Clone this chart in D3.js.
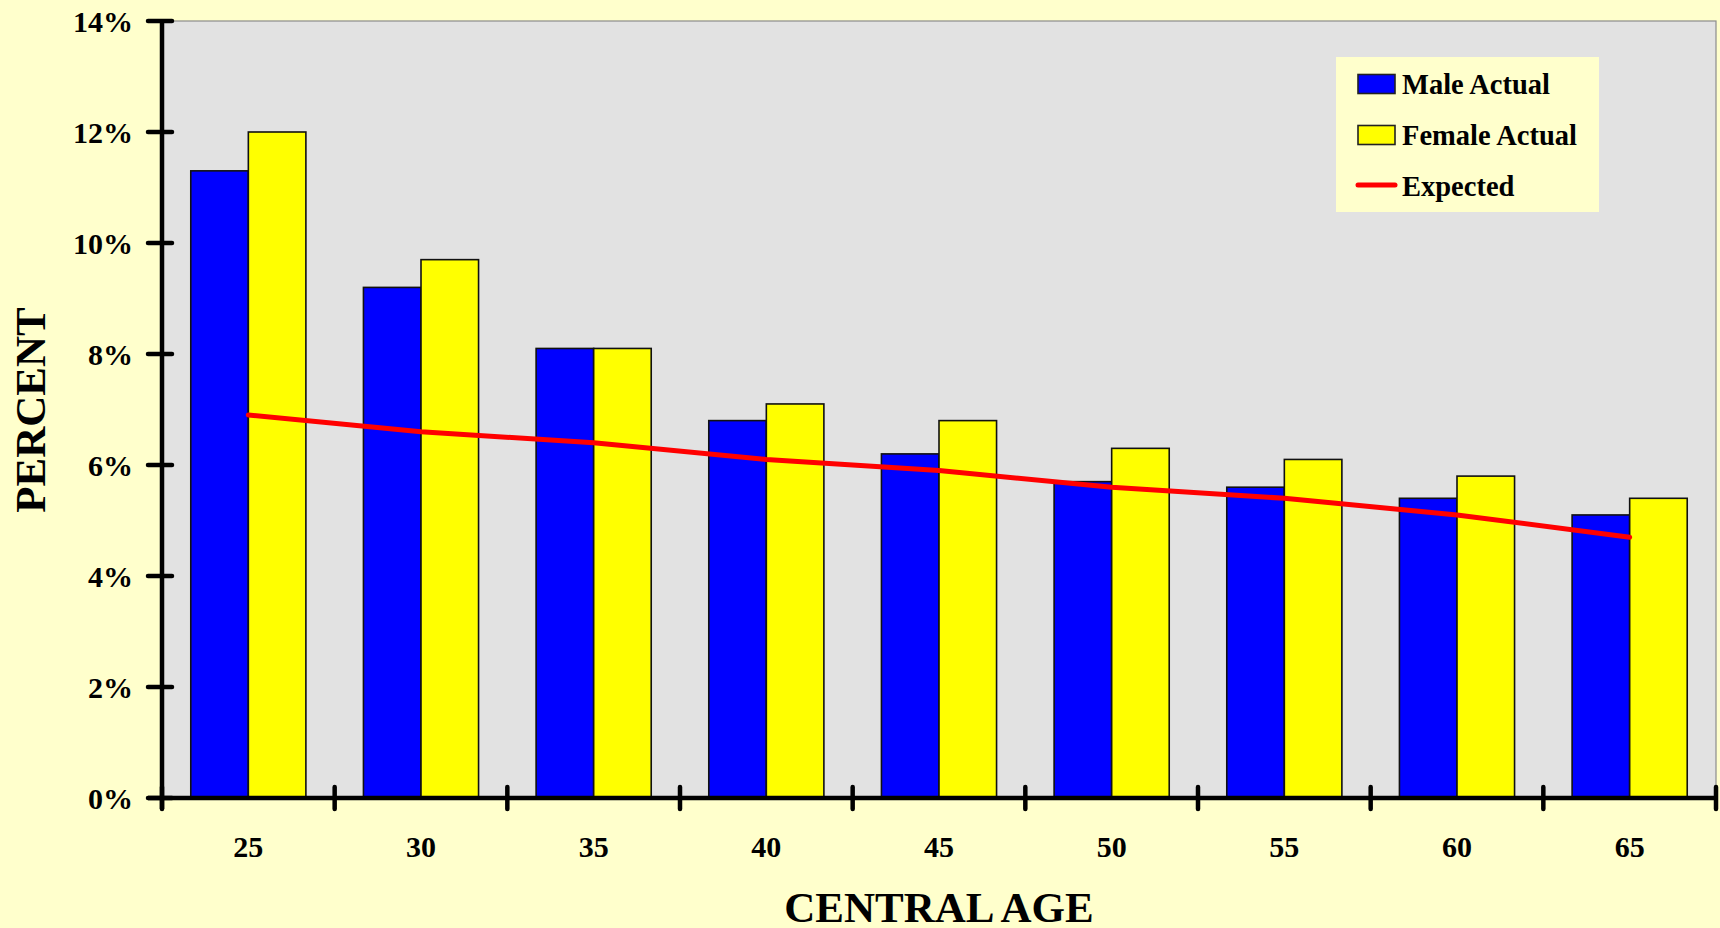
<!DOCTYPE html>
<html>
<head>
<meta charset="utf-8">
<script src="https://cdn.jsdelivr.net/npm/d3@7"></script>
<style>
  html, body { margin: 0; padding: 0; background: #FFFFCC; }
  svg { display: block; }
  text { font-family: "Liberation Serif", "Times New Roman", serif; font-weight: bold; fill: #000; }
</style>
</head>
<body>
<svg id="chart" width="1720" height="928"></svg>
<script>
const categories = ["25", "30", "35", "40", "45", "50", "55", "60", "65"];
const maleActual = [11.3, 9.2, 8.1, 6.8, 6.2, 5.7, 5.6, 5.4, 5.1];
const femaleActual = [12.0, 9.7, 8.1, 7.1, 6.8, 6.3, 6.1, 5.8, 5.4];
const expected = [6.9, 6.6, 6.4, 6.1, 5.9, 5.6, 5.4, 5.1, 4.7];
const yTicks = [0, 2, 4, 6, 8, 10, 12, 14];
const seriesNames = ["Male Actual", "Female Actual", "Expected"];

(function () {
const svg = d3.select("#chart");
const pLeft = 162, pRight = 1716, pTop = 21, pBottom = 798;

const x0 = d3.scaleBand().domain(categories).range([pLeft, pRight]).paddingInner(1/3).paddingOuter(1/6);
const x1 = d3.scaleBand().domain(["m", "f"]).range([0, x0.bandwidth()]);
const y = d3.scaleLinear().domain([0, 14]).range([pBottom, pTop]);

// plot background
svg.append("rect").attr("x", pLeft).attr("y", pTop).attr("width", pRight - pLeft).attr("height", pBottom - pTop)
  .attr("fill", "#E2E2E2").attr("stroke", "#8c8c8c").attr("stroke-width", 1.2);

// bars
const groups = svg.append("g").selectAll("g").data(categories).join("g")
  .attr("transform", d => `translate(${x0(d)},0)`);
groups.append("rect")
  .attr("x", x1("m")).attr("width", x1.bandwidth())
  .attr("y", (d, i) => y(maleActual[i])).attr("height", (d, i) => y(0) - y(maleActual[i]))
  .attr("fill", "#0000FF").attr("stroke", "#111").attr("stroke-width", 1.6);
groups.append("rect")
  .attr("x", x1("f")).attr("width", x1.bandwidth())
  .attr("y", (d, i) => y(femaleActual[i])).attr("height", (d, i) => y(0) - y(femaleActual[i]))
  .attr("fill", "#FFFF00").attr("stroke", "#111").attr("stroke-width", 1.6);

// expected line
const line = d3.line().x((d, i) => x0(categories[i]) + x0.bandwidth() / 2).y(d => y(d));
svg.append("path").datum(expected).attr("d", line)
  .attr("fill", "none").attr("stroke", "#FF0000").attr("stroke-width", 5)
  .attr("stroke-linecap", "round").attr("stroke-linejoin", "round");

// y axis
const yAxis = svg.append("g");
yAxis.append("line").attr("x1", pLeft).attr("x2", pLeft).attr("y1", pTop).attr("y2", pBottom + 11)
  .attr("stroke", "#000").attr("stroke-width", 4.5);
yAxis.selectAll(".yt").data(yTicks).join("line")
  .attr("x1", pLeft - 14).attr("x2", pLeft + 10).attr("y1", d => y(d)).attr("y2", d => y(d))
  .attr("stroke", "#000").attr("stroke-width", 4.5).attr("stroke-linecap", "round");
yAxis.selectAll(".yl").data(yTicks).join("text")
  .attr("x", pLeft - 29).attr("y", d => y(d) + 11)
  .attr("text-anchor", "end").attr("font-size", 30)
  .text(d => d + "%");

// x axis
const xAxis = svg.append("g");
xAxis.append("line").attr("x1", pLeft - 14).attr("x2", pRight).attr("y1", pBottom).attr("y2", pBottom)
  .attr("stroke", "#000").attr("stroke-width", 4.5);
const boundaries = d3.range(categories.length + 1).map(i => pLeft + i * x0.step());
xAxis.selectAll(".xt").data(boundaries).join("line")
  .attr("x1", d => d).attr("x2", d => d).attr("y1", pBottom - 11).attr("y2", pBottom + 11)
  .attr("stroke", "#000").attr("stroke-width", 4.5).attr("stroke-linecap", "round");
xAxis.selectAll(".xl").data(categories).join("text")
  .attr("x", d => x0(d) + x0.bandwidth() / 2).attr("y", 857)
  .attr("text-anchor", "middle").attr("font-size", 30)
  .text(d => d);

// axis titles
svg.append("text").attr("x", (pLeft + pRight) / 2).attr("y", 922)
  .attr("text-anchor", "middle").attr("font-size", 43).text("CENTRAL AGE");
svg.append("text").attr("transform", "translate(45,410) rotate(-90)")
  .attr("text-anchor", "middle").attr("font-size", 43).text("PERCENT");

// legend
const lg = svg.append("g");
lg.append("rect").attr("x", 1336).attr("y", 57).attr("width", 263).attr("height", 155).attr("fill", "#FFFFCC");
const lgY = [84, 135, 186];
lg.append("rect").attr("x", 1358).attr("y", lgY[0] - 9.5).attr("width", 37).attr("height", 19)
  .attr("fill", "#0000FF").attr("stroke", "#222").attr("stroke-width", 1.6);
lg.append("rect").attr("x", 1358).attr("y", lgY[1] - 9.5).attr("width", 37).attr("height", 19)
  .attr("fill", "#FFFF00").attr("stroke", "#222").attr("stroke-width", 1.6);
lg.append("line").attr("x1", 1358).attr("x2", 1395).attr("y1", lgY[2] - 1).attr("y2", lgY[2] - 1)
  .attr("stroke", "#FF0000").attr("stroke-width", 5).attr("stroke-linecap", "round");
lg.selectAll(".lt").data(seriesNames).join("text")
  .attr("x", 1402).attr("y", (d, i) => lgY[i] + 10)
  .attr("font-size", 28.5).text(d => d);
})();
</script>
</body>
</html>
